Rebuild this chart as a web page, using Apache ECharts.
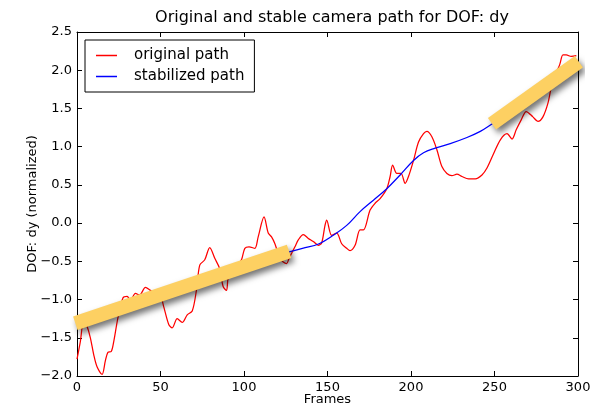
<!DOCTYPE html>
<html>
<head>
<meta charset="utf-8">
<script src="https://cdn.jsdelivr.net/npm/echarts@6/dist/echarts.min.js"></script>
<style>html,body{margin:0;padding:0;background:#fff;}#c{width:603px;height:406px;}</style>
</head>
<body>
<div id="c"></div>
<script>
// ---- data ----
var origX = [0,2,4,6,8,10,12,15,17,18.5,20.5,22,24.5,27.5,30,32,35,37.5,41,44,47,50,52,55,57,60,63,66,69,71.5,73.5,76.5,79.5,82.5,85.5,87.5,89.5,90.5,93,96,98.5,100.5,103,106.5,108.5,112,114.5,116.5,118.5,121.5,123.5,125.5,127,130.5,132.5,135.5,138.5,141.5,144.5,146.5,148.5,149.5,152.5,155.5,158.5,161.5,163.5,166.5,169.5,171.5,175.5,178.5,181.5,185.5,187.5,189,191.5,194,196.5,198.5,201.5,204.5,207.5,209.5,212.5,215.5,218.5,221.5,224.5,227.5,230.5,234.5,238.5,242.5,245.5,249.5,253.5,257.5,260.5,263,266,269,273,276,279,282,284,286,289,291,293,296,299];
var origY = [-1.78,-1.55,-1.28,-1.35,-1.5,-1.72,-1.88,-1.98,-1.8,-1.69,-1.68,-1.55,-1.24,-0.98,-0.96,-1.01,-0.92,-0.94,-0.84,-0.88,-0.92,-0.95,-1.1,-1.33,-1.37,-1.25,-1.3,-1.2,-1.15,-0.88,-0.55,-0.48,-0.32,-0.46,-0.6,-0.83,-0.88,-0.72,-0.6,-0.55,-0.48,-0.33,-0.31,-0.33,-0.18,0.08,-0.13,-0.18,-0.27,-0.46,-0.51,-0.53,-0.46,-0.31,-0.22,-0.15,-0.2,-0.24,-0.29,-0.26,-0.03,0.04,-0.16,-0.13,-0.27,-0.33,-0.36,-0.29,-0.09,-0.09,0.17,0.26,0.32,0.45,0.61,0.76,0.65,0.65,0.52,0.61,0.82,1.06,1.17,1.2,1.13,0.96,0.74,0.65,0.62,0.64,0.61,0.58,0.58,0.63,0.72,0.91,1.09,1.17,1.1,1.22,1.35,1.46,1.39,1.33,1.39,1.57,1.78,1.92,2.07,2.2,2.2,2.18,2.19];
var stabX = [126.5,135,145,153.5,161.5,169.5,177.5,185.5,193.5,201.5,207.5,214.5,223.5,233.5,241.5,248,251];
var stabY = [-0.38,-0.33,-0.27,-0.16,-0.03,0.15,0.30,0.45,0.63,0.82,0.92,0.98,1.04,1.12,1.2,1.29,1.33];
var bar1X = [-1,127], bar1Y = [-1.31,-0.37];
var bar2X = [248.5,300.5], bar2Y = [1.30,2.11];
var xTicks = [0,50,100,150,200,250,300];
var yTicks = ['-2.0','-1.5','-1.0','-0.5','0.0','0.5','1.0','1.5','2.0','2.5'];
var seriesNames = ['original path','stabilized path'];
var titleText = 'Original and stable camera path for DOF: dy';

function zip(a,b){return a.map(function(v,i){return [v,b[i]];});}
var FONT = 'DejaVu Sans';
var chart = echarts.init(document.getElementById('c'), null, {renderer:'canvas'});
var axisLine = {show:true, onZero:false, lineStyle:{color:'#000', width:1}};
var tick = {show:true, inside:true, length:5, lineStyle:{color:'#000'}};
var barStyle = {color:'#fdd062', width:14, cap:'butt', shadowColor:'rgba(0,0,0,0.55)', shadowBlur:6, shadowOffsetX:3, shadowOffsetY:4};
chart.setOption({
  animation:false,
  backgroundColor:'#fff',
  title:{text:titleText, left:327, top:5, textAlign:'center', textStyle:{fontFamily:FONT, fontSize:16, fontWeight:'normal', color:'#000'}},
  grid:{left:77, right:25, top:32, bottom:30, outerBoundsMode:'none', containLabel:false},
  legend:{data:seriesNames, orient:'vertical', left:85, top:40, padding:[8,10,8,11], itemGap:6, itemWidth:21, itemHeight:1.5, icon:'rect',
    borderColor:'#000', borderWidth:1, borderRadius:0, backgroundColor:'#fff',
    textStyle:{fontFamily:FONT, fontSize:15, color:'#000', padding:[0,0,0,12]}},
  xAxis:[
    {type:'value', min:0, max:300, interval:50, name:'Frames', nameLocation:'middle', nameGap:17, nameMoveOverlap:false,
     nameTextStyle:{fontFamily:FONT, fontSize:13, color:'#000'},
     axisLine:axisLine, axisTick:tick, splitLine:{show:false},
     axisLabel:{fontFamily:FONT, fontSize:13, color:'#000', margin:5}},
    {type:'value', position:'top', min:0, max:300, interval:50, axisLine:axisLine, axisTick:tick, splitLine:{show:false}, axisLabel:{show:false}}
  ],
  yAxis:[
    {type:'value', min:-2, max:2.5, interval:0.5, name:'DOF: dy (normalized)', nameLocation:'middle', nameGap:38, nameRotate:90, nameMoveOverlap:false,
     nameTextStyle:{fontFamily:FONT, fontSize:13, color:'#000'},
     axisLine:axisLine, axisTick:tick, splitLine:{show:false},
     axisLabel:{fontFamily:FONT, fontSize:13, color:'#000', margin:5,
       formatter:function(v){var i=Math.round((v+2)/0.5);return (yTicks[i]||'').replace('-','\u2212');}}},
    {type:'value', position:'right', min:-2, max:2.5, interval:0.5, axisLine:axisLine, axisTick:tick, splitLine:{show:false}, axisLabel:{show:false}}
  ],
  series:[
    {name:seriesNames[0], type:'line', data:zip(origX,origY), showSymbol:false, smooth:0.3, lineStyle:{color:'#ff0000', width:1.25}, itemStyle:{color:'#ff0000'}, z:2},
    {name:seriesNames[1], type:'line', data:zip(stabX,stabY), showSymbol:false, smooth:0.4, lineStyle:{color:'#0000ff', width:1.25}, itemStyle:{color:'#0000ff'}, z:3},
    {name:'bar1', type:'line', data:zip(bar1X,bar1Y), showSymbol:false, clip:false, lineStyle:barStyle, z:5, silent:true},
    {name:'bar2', type:'line', data:zip(bar2X,bar2Y), showSymbol:false, clip:false, lineStyle:barStyle, z:5, silent:true}
  ]
});
</script>
</body>
</html>
